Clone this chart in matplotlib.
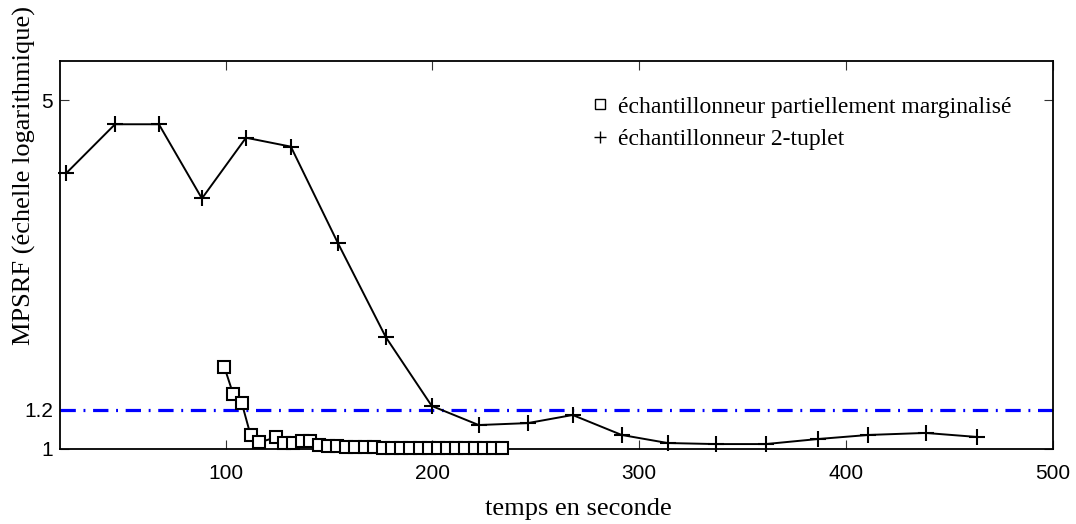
import matplotlib
matplotlib.use("Agg")
import matplotlib.pyplot as plt

# échantillonneur 2-tuplet
t_tuplet = [22.9, 46.6, 67.8, 88.6, 109.9, 131.6, 154.3, 177.5, 199.7, 222.4,
            246.1, 267.8, 291.5, 313.7, 336.9, 361.1, 386.2, 410.8, 438.4, 463.5]
r_tuplet = [3.57, 4.48, 4.48, 3.18, 4.21, 4.04, 2.59, 1.676, 1.22, 1.117,
            1.127, 1.170, 1.067, 1.028, 1.023, 1.023, 1.047, 1.067, 1.077, 1.057]

# échantillonneur partiellement marginalisé
t_marg = [99.4, 103.7, 107.9, 112.1, 116.3, 124.3, 128.2, 132.4, 136.8, 140.8,
          145.1, 149.5, 153.9, 158.3, 162.8, 167.2, 171.6, 176.1, 180.5, 184.9,
          189.4, 193.8, 198.2, 202.7, 207.1, 211.5, 216.0, 220.4, 224.8, 229.3, 233.7]
r_marg = [1.462, 1.289, 1.235, 1.067, 1.031, 1.055, 1.029, 1.029, 1.039, 1.038,
          1.019, 1.014, 1.012, 1.010, 1.009, 1.008, 1.007, 1.006, 1.006, 1.006,
          1.005, 1.005, 1.005, 1.005, 1.005, 1.004, 1.004, 1.004, 1.004, 1.004, 1.004]

seuil = 1.2
xticks = [100, 200, 300, 400, 500]
yticks = [1, 1.2, 5]
ytick_labels = ["1", "1.2", "5"]

serif = ["Liberation Serif", "DejaVu Serif"]
sans = ["Liberation Sans", "DejaVu Sans"]

fig = plt.figure(figsize=(10.76, 5.24), dpi=100)
ax = fig.add_axes([60 / 1076, 1 - 449 / 524, 993 / 1076, 388 / 524])

ax.plot(t_marg, r_marg, color="black", lw=1.4, marker="s", ms=9,
        mfc="white", mec="black", mew=1.5, zorder=3, clip_on=False)
ax.plot(t_tuplet, r_tuplet, color="black", lw=1.4, marker="+", ms=12,
        mew=1.5, zorder=3, clip_on=False)
ax.axhline(seuil, color="#0000ff", lw=2.3, dashes=(4.8, 2.4, 0.6, 2.4), zorder=2)

ax.set_yscale("log")
ax.set_xlim(20, 500)
ax.set_ylim(1, 6)
ax.set_xticks(xticks)
ax.set_yticks(yticks)
ax.set_yticklabels(ytick_labels)
ax.minorticks_off()
ax.tick_params(which="major", direction="in", length=6.5, width=0.8,
               top=True, right=True, labelsize=15, color="#333333")
ax.tick_params(axis="x", pad=11)
ax.tick_params(axis="y", pad=5)
for lab in ax.get_xticklabels() + ax.get_yticklabels():
    lab.set_family(sans)
for s in ax.spines.values():
    s.set_linewidth(1.3)

ax.set_xlabel("temps en seconde", family=serif, fontsize=19)
ax.xaxis.set_label_coords(0.522, -0.125)
ax.set_ylabel("MPSRF (échelle logarithmique)", family=serif, fontsize=19)
ax.yaxis.set_label_coords(-0.024, 0.705)

# légende
h1, = ax.plot([], [], ls="none", marker="s", ms=7, mfc="white", mec="black", mew=1)
h2, = ax.plot([], [], ls="none", marker="+", ms=9, mec="black", mew=1)
ax.legend([h1, h2], ["échantillonneur partiellement marginalisé",
                     "échantillonneur 2-tuplet"],
          loc="upper left", bbox_to_anchor=((593 - 60) / 993, (449 - 96) / 388),
          frameon=False, borderpad=0, borderaxespad=0,
          prop={"family": serif, "size": 17}, handlelength=0.6,
          handletextpad=0.45, labelspacing=0.47)

fig.savefig("out.png", dpi=100)
